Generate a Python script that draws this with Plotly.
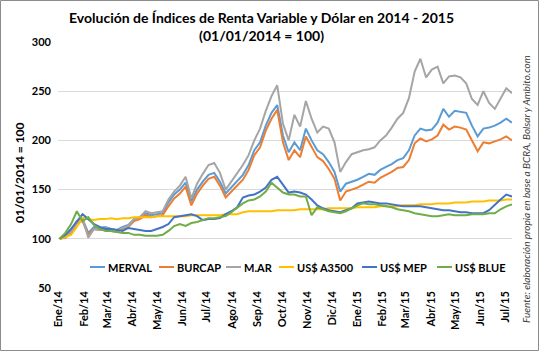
import plotly.graph_objects as go
import pandas as pd

# weekly observation dates (base 01/01/2014 = 100)
dates = pd.date_range("2014-01-02", periods=80, freq="7D")

merval = [100, 103, 108, 118, 120, 106, 112, 111, 112, 110,
          109, 112, 114, 120, 122, 126, 124, 125, 126, 137,
          145, 150, 157, 138, 150, 158, 165, 167, 158, 146,
          152, 158, 165, 175, 190, 198, 215, 228, 236, 205,
          188, 198, 190, 212, 200, 190, 186, 178, 168, 148,
          156, 158, 160, 163, 166, 165, 170, 173, 176, 180,
          182, 190, 205, 212, 210, 211, 218, 232, 224, 230,
          229, 228, 215, 204, 212, 213, 215, 218, 222, 218]

burcap = [100, 101, 106, 116, 118, 104, 110, 109, 110, 108,
          107, 110, 112, 118, 120, 124, 122, 123, 124, 133,
          141, 146, 153, 134, 146, 154, 161, 163, 154, 142,
          148, 154, 160, 170, 185, 193, 210, 222, 231, 198,
          180, 190, 183, 204, 193, 183, 179, 171, 161, 139,
          148, 150, 152, 155, 158, 157, 162, 165, 168, 172,
          173, 180, 197, 202, 199, 201, 205, 216, 211, 214,
          213, 211, 200, 189, 198, 197, 199, 201, 204, 200]

mar = [100, 102, 107, 117, 121, 101, 110, 109, 111, 109,
       108, 111, 113, 120, 122, 128, 126, 127, 128, 140,
       148, 154, 163, 141, 156, 166, 175, 177, 167, 150,
       158, 166, 175, 185, 200, 212, 230, 245, 256, 217,
       200, 226, 214, 240, 222, 208, 214, 212, 198, 168,
       178, 186, 188, 190, 191, 193, 200, 205, 213, 222,
       228, 243, 270, 283, 264, 272, 275, 258, 265, 266,
       264, 258, 242, 236, 250, 238, 232, 243, 253, 248]

a3500 = [100, 102, 104, 112, 121, 120, 119, 120, 120, 121,
         120, 121, 121, 122, 122, 122, 122, 123, 123, 123,
         123, 123, 123, 124, 124, 124, 124, 124, 124, 125,
         125, 125, 127, 128, 128, 128, 128, 128, 129, 129,
         129, 129, 130, 130, 130, 130, 130, 131, 131, 131,
         131, 131, 132, 132, 132, 132, 133, 133, 133, 133,
         134, 134, 134, 135, 135, 135, 136, 136, 136, 137,
         137, 137, 138, 138, 138, 139, 139, 139, 140, 140]

mep = [100, 104, 110, 118, 125, 120, 115, 112, 110, 110,
       109, 108, 111, 110, 109, 108, 108, 110, 112, 115,
       122, 123, 124, 125, 123, 119, 120, 120, 121, 125,
       128, 132, 142, 144, 145, 148, 152, 160, 163, 155,
       147, 148, 147, 145, 140, 134, 131, 129, 128, 127,
       129, 131, 136, 137, 138, 137, 136, 136, 135, 134,
       133, 133, 133, 133, 132, 131, 130, 129, 129, 128,
       127, 127, 126, 126, 126, 129, 135, 140, 145, 143]

blue = [100, 106, 115, 128, 118, 122, 114, 110, 108, 108,
        107, 106, 106, 104, 104, 103, 103, 103, 104, 108,
        113, 115, 113, 116, 117, 119, 121, 121, 122, 123,
        127, 132, 136, 139, 140, 143, 148, 157, 152, 147,
        145, 145, 143, 143, 124, 132, 130, 128, 127, 126,
        128, 131, 134, 136, 135, 135, 134, 133, 132, 130,
        129, 128, 126, 125, 124, 123, 123, 124, 125, 124,
        124, 124, 125, 125, 125, 126, 126, 130, 133, 135]

series_names = ["MERVAL", "BURCAP", "M.AR", "US$ A3500", "US$ MEP", "US$ BLUE"]
series_values = [merval, burcap, mar, a3500, mep, blue]
colors = ["#5B9BD5", "#ED7D31", "#A5A5A5", "#FFC000", "#4472C4", "#70AD47"]

tick_dates = pd.date_range("2014-01-01", "2015-07-01", freq="MS")
tick_labels = ["Ene/14", "Feb/14", "Mar/14", "Abr/14", "May/14", "Jun/14",
               "Jul/14", "Ago/14", "Sep/14", "Oct/14", "Nov/14", "Dic/14",
               "Ene/15", "Feb/15", "Mar/15", "Abr/15", "May/15", "Jun/15",
               "Jul/15"]
y_ticks = [50, 100, 150, 200, 250, 300]

FONT = "Lato"
fig = go.Figure()
for name, vals, col in zip(series_names, series_values, colors):
    fig.add_trace(go.Scatter(x=dates, y=vals, name=name, mode="lines",
                             line=dict(color=col, width=2)))

W, H = 539, 351
L, R, T, B = 58, 27, 42, 63
pw, ph = W - L - R, H - T - B

def px_x(p):
    return (p - L) / pw

def px_y(p):
    return (H - B - p) / ph

# manual legend (short Excel-style line samples)
legend_x = [90, 159, 226, 279, 362, 437]
legend_y = 267
shapes = [dict(type="rect", xref="paper", yref="paper",
               x0=px_x(0.5), x1=px_x(538.5), y0=px_y(350.5), y1=px_y(0.5),
               line=dict(color="#8C8C8C", width=1), layer="below")]
annotations = [
    dict(text="Evolución de Índices de Renta Variable y Dólar en 2014 - 2015<br>(01/01/2014 = 100)",
         xref="paper", yref="paper", x=px_x(261), y=px_y(26),
         xanchor="center", yanchor="middle", showarrow=False,
         font=dict(size=14, weight="bold", family=FONT)),
    dict(text="01/01/2014 = 100", xref="paper", yref="paper",
         x=px_x(19), y=px_y(173), textangle=-90, showarrow=False,
         xanchor="center", yanchor="middle",
         font=dict(size=12, weight="bold", family=FONT)),
    dict(text="Fuente: elaboración propia en base a BCRA, Bolsar y Ambito.com",
         xref="paper", yref="paper", x=px_x(526), y=px_y(189),
         textangle=-90, showarrow=False, xanchor="center", yanchor="middle",
         font=dict(size=10, style="italic", family=FONT, color="#404040")),
]
for lx, name, col in zip(legend_x, series_names, colors):
    shapes.append(dict(type="line", xref="paper", yref="paper",
                       x0=px_x(lx), x1=px_x(lx + 15), y0=px_y(legend_y), y1=px_y(legend_y),
                       line=dict(color=col, width=2)))
    annotations.append(dict(text=name, xref="paper", yref="paper",
                            x=px_x(lx + 16), y=px_y(legend_y), xanchor="left",
                            yanchor="middle", showarrow=False,
                            font=dict(size=11, weight="bold", family=FONT)))

fig.update_layout(
    width=W, height=H,
    margin=dict(l=L, r=R, t=T, b=B),
    paper_bgcolor="white", plot_bgcolor="white",
    font=dict(family=FONT, color="#000000"),
    showlegend=False,
    xaxis=dict(type="date", range=["2013-12-31", "2015-07-09"],
               tickvals=list(tick_dates), ticktext=tick_labels,
               tickangle=-90, tickfont=dict(size=11, weight="bold"),
               showgrid=False, showline=False, zeroline=False, ticks=""),
    yaxis=dict(range=[50, 300], tickvals=y_ticks,
               tickfont=dict(size=11, weight="bold"),
               showgrid=True, gridcolor="#D9D9D9", gridwidth=1,
               zeroline=False, showline=False, ticks="", ticklabelstandoff=6),
    annotations=annotations,
    shapes=shapes,
)

fig.write_html("out.html")
